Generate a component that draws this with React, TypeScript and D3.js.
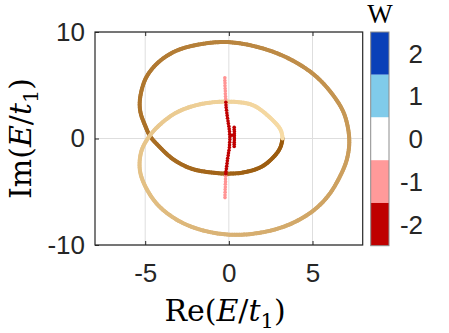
import React, { useEffect, useRef } from "react";
import * as d3 from "d3";

// spectrum loop (traversal order, dark -> light)
const loopRe = [3.21, 3.1, 2.8, 2.0, 1.0, 0, -1.0, -2.04, -2.8, -3.43, -4.2, -4.7, -5.0, -5.27, -5.33, -5.22, -4.95, -4.5, -3.9, -3.03, -1.63, 0, 2.0, 3.59, 4.99, 5.99, 6.79, 7.08, 7.2, 7.08, 6.79, 5.99, 4.99, 3.59, 2.0, 0, -2.04, -3.43, -4.43, -5.13, -5.33, -5.23, -4.78, -4.03, -3.03, -1.63, 0, 1.4, 2.4, 3.1, 3.21];
const loopIm = [0, -0.75, -1.52, -2.61, -3.15, -3.3, -3.2, -2.93, -2.45, -1.83, -0.7, 0.2, 1.2, 2.37, 3.3, 4.5, 5.7, 6.7, 7.55, 8.31, 8.87, 9.05, 8.47, 7.5, 6.12, 4.55, 2.68, 1.3, -0.3, -1.8, -3.08, -5.27, -6.84, -8.09, -8.81, -9.03, -8.4, -7.31, -5.9, -4.02, -2.77, -1.2, 0.15, 1.43, 2.52, 3.24, 3.46, 3.15, 2.05, 0.8, 0];

// W = -1 states
const pinkRe = [-0.24, -0.24, -0.23, -0.23, -0.22, -0.21, -0.21, -0.2, -0.19, -0.19, -0.2, -0.2, -0.21, -0.21, -0.22, -0.22, -0.23, -0.23];
const pinkIm = [5.7, 5.45, 5.2, 4.95, 4.7, 4.45, 4.2, 3.95, 3.7, -3.55, -3.8, -4.05, -4.3, -4.55, -4.8, -5.05, -5.3, -5.55];

// W = -2 states
const redRe = [-0.18, -0.17, -0.16, -0.14, -0.12, -0.1, -0.08, -0.05, -0.03, 0, 0.02, 0.04, 0.05, 0.06, 0.06, 0.05, 0.04, 0.03, 0.01, -0.02, -0.04, -0.07, -0.09, -0.11, -0.13, -0.15, -0.17, -0.18,
  0.32, 0.32, 0.33, 0.33, 0.33, 0.33, 0.33, 0.32, 0.32, 0.32, 0.19];
const redIm = [3.4, 3.15, 2.9, 2.65, 2.4, 2.15, 1.9, 1.65, 1.4, 1.15, 0.9, 0.65, 0.4, 0.15, -0.1, -0.35, -0.6, -0.85, -1.1, -1.35, -1.6, -1.85, -2.1, -2.35, -2.6, -2.85, -3.1, -3.3,
  1.05, 0.85, 0.65, 0.45, 0.25, 0.05, -0.15, -0.35, -0.55, -0.75, 0.3];

const xTicks = [-5, 0, 5];
const yTicks = [-10, 0, 10];
const wLevels = [2, 1, 0, -1, -2];
const wColors = ["#0a40b8", "#80cbea", "#ffffff", "#ff9a9a", "#bf0000"];

const W = 449;
const H = 333;
const box = { left: 95, right: 362.7, top: 32, bottom: 245 };
const cbar = { left: 370.7, right: 389, top: 32, bottom: 245.7 };

export default function App() {
  const ref = useRef<SVGSVGElement>(null);

  useEffect(() => {
    const svg = d3.select(ref.current);
    svg.selectAll("*").remove();

    const x = d3.scaleLinear().domain([-8, 8]).range([box.left, box.right]);
    const y = d3.scaleLinear().domain([-10, 10]).range([box.bottom, box.top]);

    // grid
    const grid = svg.append("g").attr("stroke", "#dedede").attr("stroke-width", 1);
    xTicks.forEach((t) => {
      grid.append("line").attr("x1", x(t)).attr("x2", x(t)).attr("y1", box.top).attr("y2", box.bottom);
    });
    yTicks.forEach((t) => {
      grid.append("line").attr("x1", box.left).attr("x2", box.right).attr("y1", y(t)).attr("y2", y(t));
    });

    // gradient loop: smooth path, then short coloured pieces along it
    const pts: [number, number][] = loopRe.map((r, i) => [x(r), y(loopIm[i])]);
    const line = d3.line().curve(d3.curveCatmullRom.alpha(0.5));
    const guide = svg.append("path").attr("d", line(pts)).attr("fill", "none").attr("stroke", "none");
    const node = guide.node() as SVGPathElement;
    const total = node.getTotalLength();
    const steps = 400;
    const col = d3.interpolateRgb("#9a590b", "#f7dca6");
    const loop = svg.append("g").attr("fill", "none").attr("stroke-width", 4).attr("stroke-linecap", "round");
    for (let i = 0; i < steps; i++) {
      const a = node.getPointAtLength((total * i) / steps);
      const b = node.getPointAtLength((total * (i + 1)) / steps);
      loop.append("line").attr("x1", a.x).attr("y1", a.y).attr("x2", b.x).attr("y2", b.y)
        .attr("stroke", col(i / steps));
    }
    guide.remove();

    // dots
    svg.append("g").selectAll("circle").data(pinkRe).join("circle")
      .attr("cx", (d) => x(d)).attr("cy", (_, i) => y(pinkIm[i])).attr("r", 1.8).attr("fill", "#ff9393");
    svg.append("g").selectAll("circle").data(redRe).join("circle")
      .attr("cx", (d) => x(d)).attr("cy", (_, i) => y(redIm[i])).attr("r", 1.8).attr("fill", "#c00000");

    // axes
    const font = "'Liberation Sans', Arial, sans-serif";
    const fs = 26;
    const styleAxis = (g: any) => {
      g.select(".domain").remove();
      g.selectAll(".tick line").attr("stroke", "#262626");
      g.selectAll("text").attr("font-family", font).attr("font-size", fs).attr("fill", "#262626");
    };
    svg.append("g").attr("transform", `translate(0,${box.bottom})`)
      .call(d3.axisBottom(x).tickValues(xTicks).tickSizeInner(-4).tickPadding(19).tickFormat((d) => `${d}`))
      .call(styleAxis);
    svg.append("g").attr("transform", `translate(0,${box.top})`)
      .call(d3.axisTop(x).tickValues(xTicks).tickSizeInner(-4).tickFormat(() => ""))
      .call(styleAxis);
    svg.append("g").attr("transform", `translate(${box.left},0)`)
      .call(d3.axisLeft(y).tickValues(yTicks).tickSizeInner(-4).tickPadding(10).tickFormat((d) => `${d}`))
      .call(styleAxis);

    svg.append("rect").attr("x", box.left).attr("y", box.top)
      .attr("width", box.right - box.left).attr("height", box.bottom - box.top)
      .attr("fill", "none").attr("stroke", "#262626").attr("stroke-width", 1.2);

    // colorbar
    const cy = d3.scaleBand<number>().domain(wLevels).range([cbar.top, cbar.bottom]);
    svg.append("g").selectAll("rect").data(wLevels).join("rect")
      .attr("x", cbar.left).attr("y", (d) => cy(d)!).attr("width", cbar.right - cbar.left)
      .attr("height", cy.bandwidth()).attr("fill", (_, i) => wColors[i]);
    svg.append("rect").attr("x", cbar.left).attr("y", cbar.top)
      .attr("width", cbar.right - cbar.left).attr("height", cbar.bottom - cbar.top)
      .attr("fill", "none").attr("stroke", "#8c8c8c").attr("stroke-width", 1);
    svg.append("g").selectAll("text").data(wLevels).join("text")
      .attr("x", 423).attr("y", (d) => cy(d)! + cy.bandwidth() / 2).attr("dy", "0.36em")
      .attr("text-anchor", "end").attr("font-family", font).attr("font-size", fs).attr("fill", "#262626")
      .text((d) => `${d}`);
    svg.append("text").attr("x", 380).attr("y", 23).attr("text-anchor", "middle")
      .attr("font-family", "'Liberation Serif', serif").attr("font-size", 27).attr("fill", "#000")
      .text("W");

    // axis labels
    const serif = "'DejaVu Serif', 'Liberation Serif', serif";
    const addLabel = (t: any, head: string) => {
      t.append("tspan").text(head + "(");
      t.append("tspan").attr("font-style", "italic").text("E");
      t.append("tspan").text("/");
      t.append("tspan").attr("font-style", "italic").text("t");
      t.append("tspan").attr("font-size", 21).attr("dy", 7).text("1");
      t.append("tspan").attr("dy", -7).text(")");
    };
    const xl = svg.append("text").attr("x", 225).attr("y", 321).attr("text-anchor", "middle")
      .attr("font-family", serif).attr("font-size", 30).attr("fill", "#000");
    addLabel(xl, "Re");

    const yl = svg.append("text").attr("transform", `translate(31,${(box.top + box.bottom) / 2}) rotate(-90)`)
      .attr("text-anchor", "middle").attr("font-family", serif).attr("font-size", 30).attr("fill", "#000");
    addLabel(yl, "Im");
  }, []);

  return (
    <svg ref={ref} width={W} height={H}
      style={{ position: "absolute", left: 0, top: 0, background: "#fff" }} />
  );
}
